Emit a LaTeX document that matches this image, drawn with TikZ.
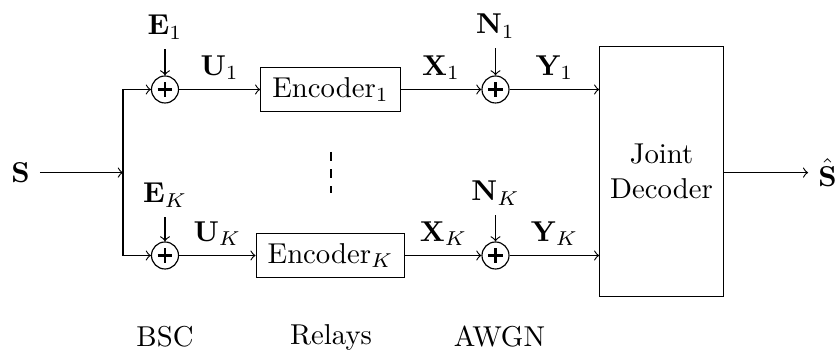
\documentclass[tikz,border=0pt]{standalone}
\usetikzlibrary{calc}
\begin{document}
\begin{tikzpicture}[x=0.348pt,y=-0.348pt,
  >=to,
  adder/.style={draw,circle,minimum size=9.4pt,inner sep=0pt,
    path picture={\draw[line width=0.75pt] ($(path picture bounding box.center)+(-2.6pt,0)$) -- ($(path picture bounding box.center)+(2.6pt,0)$);
                  \draw[line width=0.75pt] ($(path picture bounding box.center)+(0,-2.6pt)$) -- ($(path picture bounding box.center)+(0,2.6pt)$);}},
  encbox/.style={draw,minimum height=15.4pt,inner xsep=4pt,inner ysep=3.33pt},
  decbox/.style={draw,minimum width=42.9pt,minimum height=86.8pt,align=center},
  lbl/.style={inner sep=3.33pt}
]
\useasboundingbox (0,0) rectangle (838,351);

% source and split
\node[lbl] (s) at (20.5,172.6) {$\mathbf{S}$};
\coordinate (split) at (123,172.6);

% top branch
\node[adder] (p1) at (165,89.5) {};
\node[lbl] (e1) at (165,27) {$\mathbf{E}_1$};
\node[encbox] (enc1) at (330.5,89.5) {Encoder$_1$};
\node[adder] (a1) at (495.5,89.5) {};
\node[lbl] (n1) at (495.5,26) {$\mathbf{N}_1$};

% bottom branch
\node[adder] (pK) at (165,255.5) {};
\node[lbl] (eK) at (165,195) {$\mathbf{E}_K$};
\node[encbox] (encK) at (330.5,255.5) {Encoder$_K$};
\node[adder] (aK) at (495.5,255.5) {};
\node[lbl] (nK) at (495.5,193) {$\mathbf{N}_K$};

% decoder
\node[decbox] (dec) at (661.5,171.5) {Joint\\Decoder};
\node[lbl] (shat) at (827.5,172.6) {$\hat{\mathbf{S}}$};

% dashed separator
\coordinate (dtop) at (331,152);
\coordinate (dbot) at (331,193);
\draw[thick,dashed] (dtop) -- (dbot);

% bottom labels
\node (bsc) at (165,337) {BSC};
\node (rel) at (331,337) {Relays};
\node (awgn) at (499.5,337) {AWGN};

% connectors
\draw[->] (s) -- (split);
\draw[->] (split) |- (p1);
\draw[->] (split) |- (pK);
\draw[->] (e1) -- (p1);
\draw[->] (eK) -- (pK);
\draw[->] (n1) -- (a1);
\draw[->] (nK) -- (aK);
\draw[->] (p1) -- node[above,lbl] {$\mathbf{U}_1$} (enc1);
\draw[->] (pK) -- node[above,lbl] {$\mathbf{U}_K$} (encK);
\draw[->] (enc1) -- node[above,lbl] {$\mathbf{X}_1$} (a1);
\draw[->] (encK) -- node[above,lbl] {$\mathbf{X}_K$} (aK);
\draw[->] (a1) -- node[above,lbl] {$\mathbf{Y}_1$} (a1 -| dec.west);
\draw[->] (aK) -- node[above,lbl] {$\mathbf{Y}_K$} (aK -| dec.west);
\draw[->] (dec.east |- shat) -- (shat);
\end{tikzpicture}
\end{document}
